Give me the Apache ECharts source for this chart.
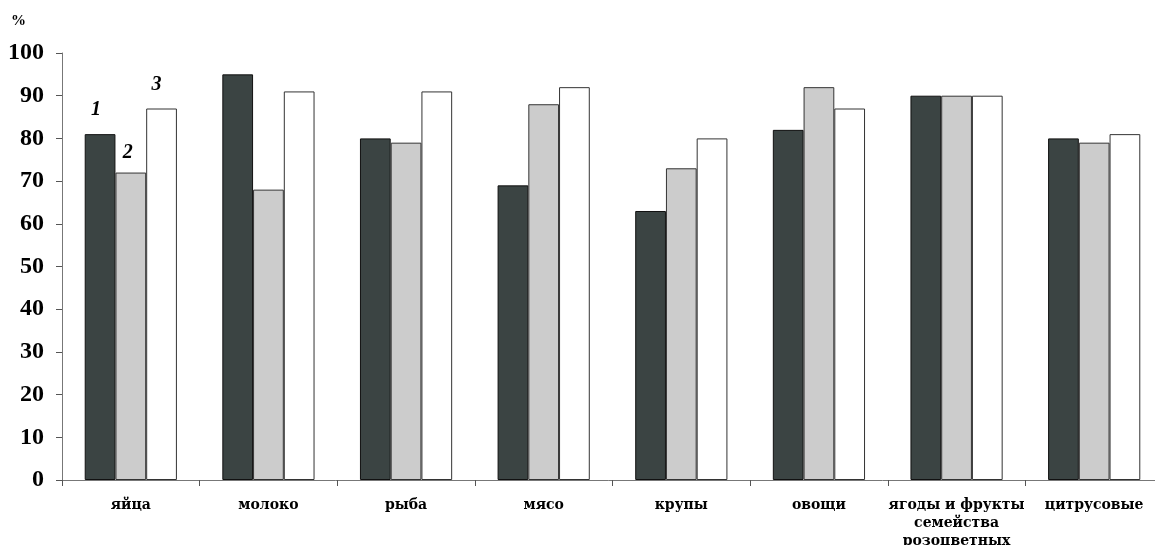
<!DOCTYPE html>
<html><head><meta charset="utf-8">
<script src="https://cdn.jsdelivr.net/npm/echarts@6/dist/echarts.min.js"></script>
<style>html,body{margin:0;padding:0;background:#fff}#c{width:1155px;height:545px}</style>
</head><body><div id="c"></div>
<script>
const categories = ['яйца','молоко','рыба','мясо','крупы','овощи','ягоды и фрукты\nсемейства\nрозоцветных','цитрусовые'];
const series1 = [81,95,80,69,63,82,90,80];
const series2 = [72,68,79,88,73,92,90,79];
const series3 = [87,91,91,92,80,87,90,81];
const seriesNames = ['1','2','3'];
const yTicks = [0,10,20,30,40,50,60,70,80,90,100];

const font = '"Liberation Serif","Times New Roman",serif';
const xfont = '"DejaVu Serif",serif';
const chart = echarts.init(document.getElementById('c'));
function mk(name, data, color, border, offset){
  return {
    name, type:'bar', data: data.map((v,i)=> i===0 ? {value:v, label:{show:true}} : v),
    barGap:'0%', barCategoryGap:'33%',
    itemStyle:{color, borderColor:border, borderWidth:1},
    label:{show:false, position:'top', formatter:name, fontFamily:font, fontStyle:'italic', fontWeight:'bold', fontSize:20, color:'#000', distance:offset[1], offset:[offset[0],0]},
    emphasis:{disabled:true}
  };
}
chart.setOption({
  animation:false,
  graphic:[{type:'text', left:11, top:14, style:{text:'%', font:'bold 15px '+font, fill:'#000'}}],
  grid:{left:62, top:53, width:1101, height:427, containLabel:false, outerBoundsMode:'none'},
  xAxis:{type:'category', data:categories,
    axisLine:{lineStyle:{color:'#777', width:1}},
    axisTick:{show:true, length:6, lineStyle:{color:'#555'}},
    axisLabel:{fontFamily:xfont, fontWeight:'bold', fontSize:14, color:'#000', margin:16, lineHeight:18, interval:0}
  },
  yAxis:{type:'value', min:0, max:100, interval:10,
    axisLine:{show:true, lineStyle:{color:'#777', width:1}},
    axisTick:{show:true, length:6, lineStyle:{color:'#555'}},
    splitLine:{show:false},
    axisLabel:{fontFamily:font, fontWeight:'bold', fontSize:24, color:'#000', margin:18,
      formatter:v=> yTicks.includes(v) ? String(v) : ''}
  },
  series:[
    mk(seriesNames[0], series1, '#3b4443', '#111', [-4,14]),
    mk(seriesNames[1], series2, '#cccccc', '#333', [-3,10]),
    mk(seriesNames[2], series3, '#ffffff', '#333', [-5,14])
  ]
});
</script></body></html>
